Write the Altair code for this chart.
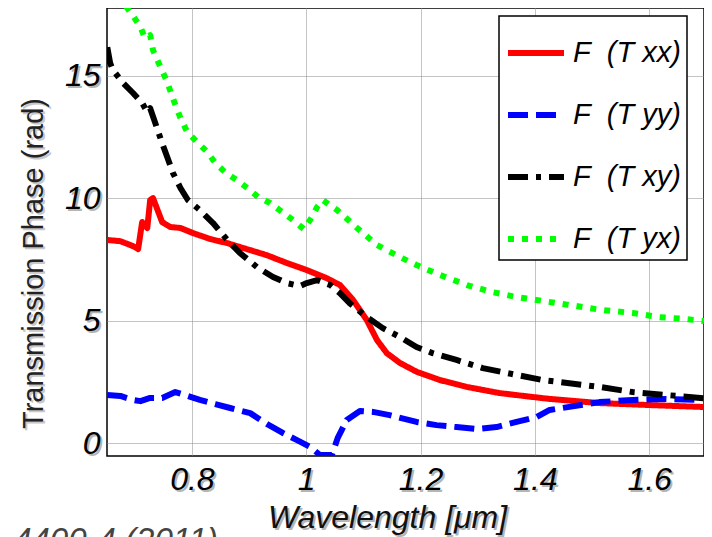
import altair as alt
import pandas as pd

# ---- data ----
red_x = [0.652, 0.675, 0.697, 0.706, 0.713, 0.722, 0.727, 0.732, 0.748, 0.762, 0.780, 0.802, 0.832,
         0.862, 0.890, 0.931, 0.966, 1.001, 1.036, 1.059, 1.082, 1.106, 1.124, 1.141, 1.164, 1.194,
         1.234, 1.281, 1.338, 1.396, 1.426, 1.513, 1.600, 1.696]
red_y = [8.29, 8.24, 8.04, 7.92, 9.02, 8.78, 9.92, 10.0, 9.02, 8.82, 8.78, 8.57, 8.33,
         8.16, 7.96, 7.67, 7.35, 7.06, 6.73, 6.45, 5.84, 5.02, 4.20, 3.67, 3.27, 2.90,
         2.57, 2.29, 2.04, 1.88, 1.80, 1.63, 1.55, 1.47]

blue_x = [0.652, 0.675, 0.697, 0.710, 0.727, 0.748, 0.771, 0.788, 0.814, 0.841, 0.867, 0.902, 0.931,
          0.959, 0.984, 1.007, 1.024, 1.045, 1.055, 1.071, 1.094, 1.117, 1.146, 1.193, 1.228, 1.263,
          1.298, 1.333, 1.368, 1.403, 1.426, 1.513, 1.571, 1.630, 1.688]
blue_y = [1.96, 1.92, 1.76, 1.71, 1.84, 1.84, 2.08, 1.96, 1.76, 1.59, 1.43, 1.22, 0.78,
          0.41, 0.12, -0.16, -0.49, -0.49, 0.20, 0.94, 1.31, 1.27, 1.14, 0.86, 0.73, 0.65,
          0.57, 0.65, 0.86, 1.06, 1.35, 1.67, 1.76, 1.80, 1.76]

black_x = [0.652, 0.657, 0.662, 0.680, 0.697, 0.713, 0.722, 0.727, 0.736, 0.748, 0.757, 0.767, 0.780,
           0.793, 0.814, 0.837, 0.862, 0.884, 0.914, 0.942, 0.966, 0.989, 1.001, 1.019, 1.042, 1.059,
           1.076, 1.106, 1.134, 1.164, 1.193, 1.221, 1.263, 1.309, 1.368, 1.414, 1.513, 1.571, 1.630,
           1.696]
black_y = [16.16, 15.51, 15.22, 14.69, 14.29, 13.88, 13.51, 13.67, 13.06, 12.24, 11.67, 11.02, 10.41,
           9.92, 9.51, 8.98, 8.29, 7.76, 7.18, 6.78, 6.53, 6.41, 6.53, 6.65, 6.45, 6.12,
           5.71, 5.14, 4.69, 4.33, 3.92, 3.67, 3.39, 3.06, 2.78, 2.57, 2.29, 2.08, 1.96,
           1.83]

green_x = [0.670, 0.696, 0.710, 0.718, 0.727, 0.732, 0.745, 0.757, 0.766, 0.780, 0.792, 0.809, 0.827,
           0.841, 0.858, 0.879, 0.897, 0.916, 0.937, 0.958, 0.977, 0.996, 1.010, 1.019, 1.029, 1.054,
           1.089, 1.124, 1.164, 1.193, 1.234, 1.281, 1.326, 1.368, 1.403, 1.518, 1.571, 1.618, 1.665,
           1.696]
green_y = [18.30, 17.47, 16.98, 16.53, 16.65, 16.04, 15.35, 14.73, 14.12, 13.27, 12.69, 12.29, 11.88,
           11.43, 11.06, 10.73, 10.41, 10.04, 9.80, 9.43, 9.10, 8.73, 9.22, 9.63, 9.92, 9.51,
           8.78, 8.08, 7.59, 7.27, 6.86, 6.45, 6.16, 5.96, 5.84, 5.43, 5.31, 5.14, 5.06,
           4.98]

labels = ["F\u00a0\u00a0(T\u00a0xx)", "F\u00a0\u00a0(T\u00a0yy)", "F\u00a0\u00a0(T\u00a0xy)", "F\u00a0\u00a0(T\u00a0yx)"]
colors = ["#ff0000", "#0000ff", "#000000", "#00ff00"]
dashes = [[1, 0], [20, 8], [20, 8, 5, 8], [6, 8]]

x_ticks = [0.8, 1.0, 1.2, 1.4, 1.6]
y_ticks = [0, 5, 10, 15]
x_title = "Wavelength [μm]"
y_title = "Transmission Phase (rad)"
footer_text = "4400-4 (2011)"

rows = []
for lab, xs, ys in zip(labels, [red_x, blue_x, black_x, green_x], [red_y, blue_y, black_y, green_y]):
    for i, (a, b) in enumerate(zip(xs, ys)):
        rows.append({"series": lab, "x": a, "y": b, "i": i})
df = pd.DataFrame(rows)

FONT = "Liberation Sans"
XDOM = [0.6515, 1.696]
YDOM = [-0.53, 17.76]
LABEL_EXPR = "datum.value == 1 ? '1' : format(datum.value, '.1f')"


def x_axis(shadow):
    d = 2 if shadow else 0
    return alt.Axis(values=x_ticks, title=x_title, orient="bottom", labelExpr=LABEL_EXPR,
                    grid=not shadow, gridColor="#888", gridDash=[1, 1], gridWidth=1,
                    domain=False, ticks=False,
                    labelFont=FONT, labelFontStyle="italic", labelFontSize=32,
                    labelColor="#b5b5b5" if shadow else "black",
                    labelPadding=8 + d, labelOffset=d, labelBaseline="top",
                    titleFont=FONT, titleFontStyle="italic", titleFontSize=32, titleFontWeight="normal",
                    titleColor="#b5b5b5" if shadow else "#111",
                    titleX=280 + d, titleY=71 + d, titleBaseline="alphabetic", titleLimit=600)


def y_axis(shadow):
    d = 2 if shadow else 0
    return alt.Axis(values=y_ticks, title=y_title, orient="left",
                    grid=not shadow, gridColor="#888", gridDash=[1, 1], gridWidth=1,
                    domain=False, ticks=False,
                    labelFont=FONT, labelFontStyle="italic", labelFontSize=32,
                    labelColor="#b5b5b5" if shadow else "black",
                    labelPadding=7 - d, labelOffset=d,
                    titleFont=FONT, titleFontSize=29, titleFontWeight="normal",
                    titleColor="#c8c8c8" if shadow else "#222",
                    titleX=-74 + d, titleY=255 + d, titleAngle=-90, titleBaseline="middle",
                    titleAlign="center", titleLimit=600)


shadow = alt.Chart(df).mark_line(opacity=0).encode(
    x=alt.X("x:Q", scale=alt.Scale(domain=XDOM, nice=False, zero=False), axis=x_axis(True)),
    y=alt.Y("y:Q", scale=alt.Scale(domain=YDOM, nice=False, zero=False), axis=y_axis(True)),
    detail="series:N",
)

lines = alt.Chart(df).mark_line(clip=True, strokeWidth=6, strokeCap="butt", strokeJoin="round").encode(
    x=alt.X("x:Q", scale=alt.Scale(domain=XDOM, nice=False, zero=False), axis=x_axis(False)),
    y=alt.Y("y:Q", scale=alt.Scale(domain=YDOM, nice=False, zero=False), axis=y_axis(False)),
    color=alt.Color("series:N", scale=alt.Scale(domain=labels, range=colors),
                    legend=alt.Legend(title=None, orient="none", legendX=392, legendY=8,
                                      fillColor="white", strokeColor="black",
                                      padding=6,
                                      symbolType="stroke", symbolSize=3136, symbolStrokeWidth=6,
                                      rowPadding=16, labelOffset=6, labelFontSize=29,
                                      labelFont=FONT, labelFontStyle="italic", labelColor="black")),
    strokeDash=alt.StrokeDash("series:N", scale=alt.Scale(domain=labels, range=dashes), legend=None),
    order="i:Q",
)

footer = alt.Chart(pd.DataFrame({"t": [footer_text]})).mark_text(
    align="right", baseline="alphabetic", fontSize=33, font=FONT, fontStyle="italic", color="#444"
).encode(x=alt.value(111), y=alt.value(543), text="t:N")

chart = alt.layer(shadow, lines, footer).resolve_axis(x="independent", y="independent").properties(
    width=597, height=448,
    autosize=alt.AutoSizeParams(type="none"),
    padding={"left": 99, "top": 0, "right": 0, "bottom": 90},
).configure_view(stroke="black", strokeWidth=1.5).configure_legend(strokeWidth=1.5)

chart.save("out.html", embed_options={"renderer": "svg", "actions": False})
